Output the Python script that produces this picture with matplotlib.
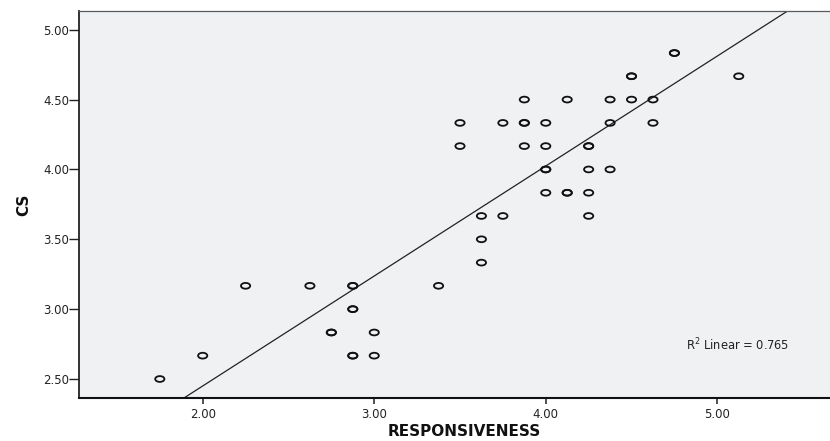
import numpy as np
import matplotlib
matplotlib.use("Agg")
import matplotlib.pyplot as plt
from matplotlib.path import Path
from matplotlib.transforms import Affine2D
from matplotlib.ticker import FormatStrFormatter

# data (bold-looking markers are repeated cases)
responsiveness = [1.75, 2.00, 2.25, 2.625, 2.875, 2.875, 2.875, 2.875, 2.75, 2.75, 3.00,
                  2.875, 2.875, 3.00, 3.375, 3.50, 3.50, 3.625, 3.625, 3.625, 3.75, 3.75,
                  3.875, 3.875, 3.875, 3.875, 4.00, 4.00, 4.00, 4.00, 4.00, 4.125, 4.125,
                  4.125, 4.25, 4.25, 4.25, 4.25, 4.25, 4.375, 4.375, 4.375, 4.50, 4.50,
                  4.50, 4.625, 4.625, 4.75, 4.75, 5.125]
cs = [2.50, 2.667, 3.167, 3.167, 3.167, 3.167, 3.00, 3.00, 2.833, 2.833, 2.833,
      2.667, 2.667, 2.667, 3.167, 4.333, 4.167, 3.667, 3.50, 3.333, 4.333, 3.667,
      4.50, 4.333, 4.333, 4.167, 4.333, 4.167, 4.00, 4.00, 3.833, 4.50, 3.833,
      3.833, 4.167, 4.167, 4.00, 3.833, 3.667, 4.50, 4.333, 4.00, 4.667, 4.667,
      4.50, 4.50, 4.333, 4.833, 4.833, 4.667]
x_ticks = [2, 3, 4, 5]
y_ticks = [2.5, 3.0, 3.5, 4.0, 4.5, 5.0]
r2_label = "R$^2$ Linear = 0.765"

x = np.array(responsiveness)
y = np.array(cs)
slope, intercept = np.polyfit(x, y, 1)

# flattened circle like the (stretched) SPSS marker
ellipse = Path.unit_circle().transformed(Affine2D().scale(1.0, 0.63))

plt.rcParams['font.family'] = ['DejaVu Sans']

fig = plt.figure(figsize=(8.3, 4.41), dpi=100)
ax = fig.add_axes([0.0952, 0.0975, 0.9048, 0.8782])
ax.set_facecolor('#f0f1f3')

ax.scatter(x, y, marker=ellipse, s=44, facecolors='none', edgecolors='#111111',
           linewidths=1.3, zorder=3)

xlim = (1.279, 5.657)
ylim = (2.364, 5.136)
xs = np.array(xlim)
ax.plot(xs, intercept + slope * xs, color='#222222', linewidth=0.9, zorder=2)

ax.set_xlim(xlim)
ax.set_ylim(ylim)
ax.set_xticks(x_ticks)
ax.set_yticks(y_ticks)
ax.xaxis.set_major_formatter(FormatStrFormatter('%.2f'))
ax.yaxis.set_major_formatter(FormatStrFormatter('%.2f'))
ax.tick_params(axis='x', direction='out', length=4, width=1.1, labelsize=8.5, pad=3,
               colors='#222222')
ax.tick_params(axis='y', direction='out', length=7, width=1, labelsize=8.5, pad=0,
               colors='#222222')

ax.spines['left'].set_color('#222222')
ax.spines['left'].set_linewidth(1.3)
ax.spines['bottom'].set_color('#111111')
ax.spines['bottom'].set_linewidth(1.5)
ax.spines['top'].set_color('#5a5a5a')
ax.spines['top'].set_linewidth(0.9)
ax.spines['right'].set_visible(False)

ax.set_xlabel('RESPONSIVENESS', fontsize=11, fontweight='bold', color='#111111')
ax.set_ylabel('CS', fontsize=11, fontweight='bold', color='#111111')
ax.xaxis.set_label_coords(0.513, -0.066)
ax.yaxis.set_label_coords(-0.064, 0.50)

ax.text(0.808, 0.137, r2_label, transform=ax.transAxes, fontsize=8.3,
        color='#222222', va='center', ha='left')

fig.savefig('out.png', dpi=100)
